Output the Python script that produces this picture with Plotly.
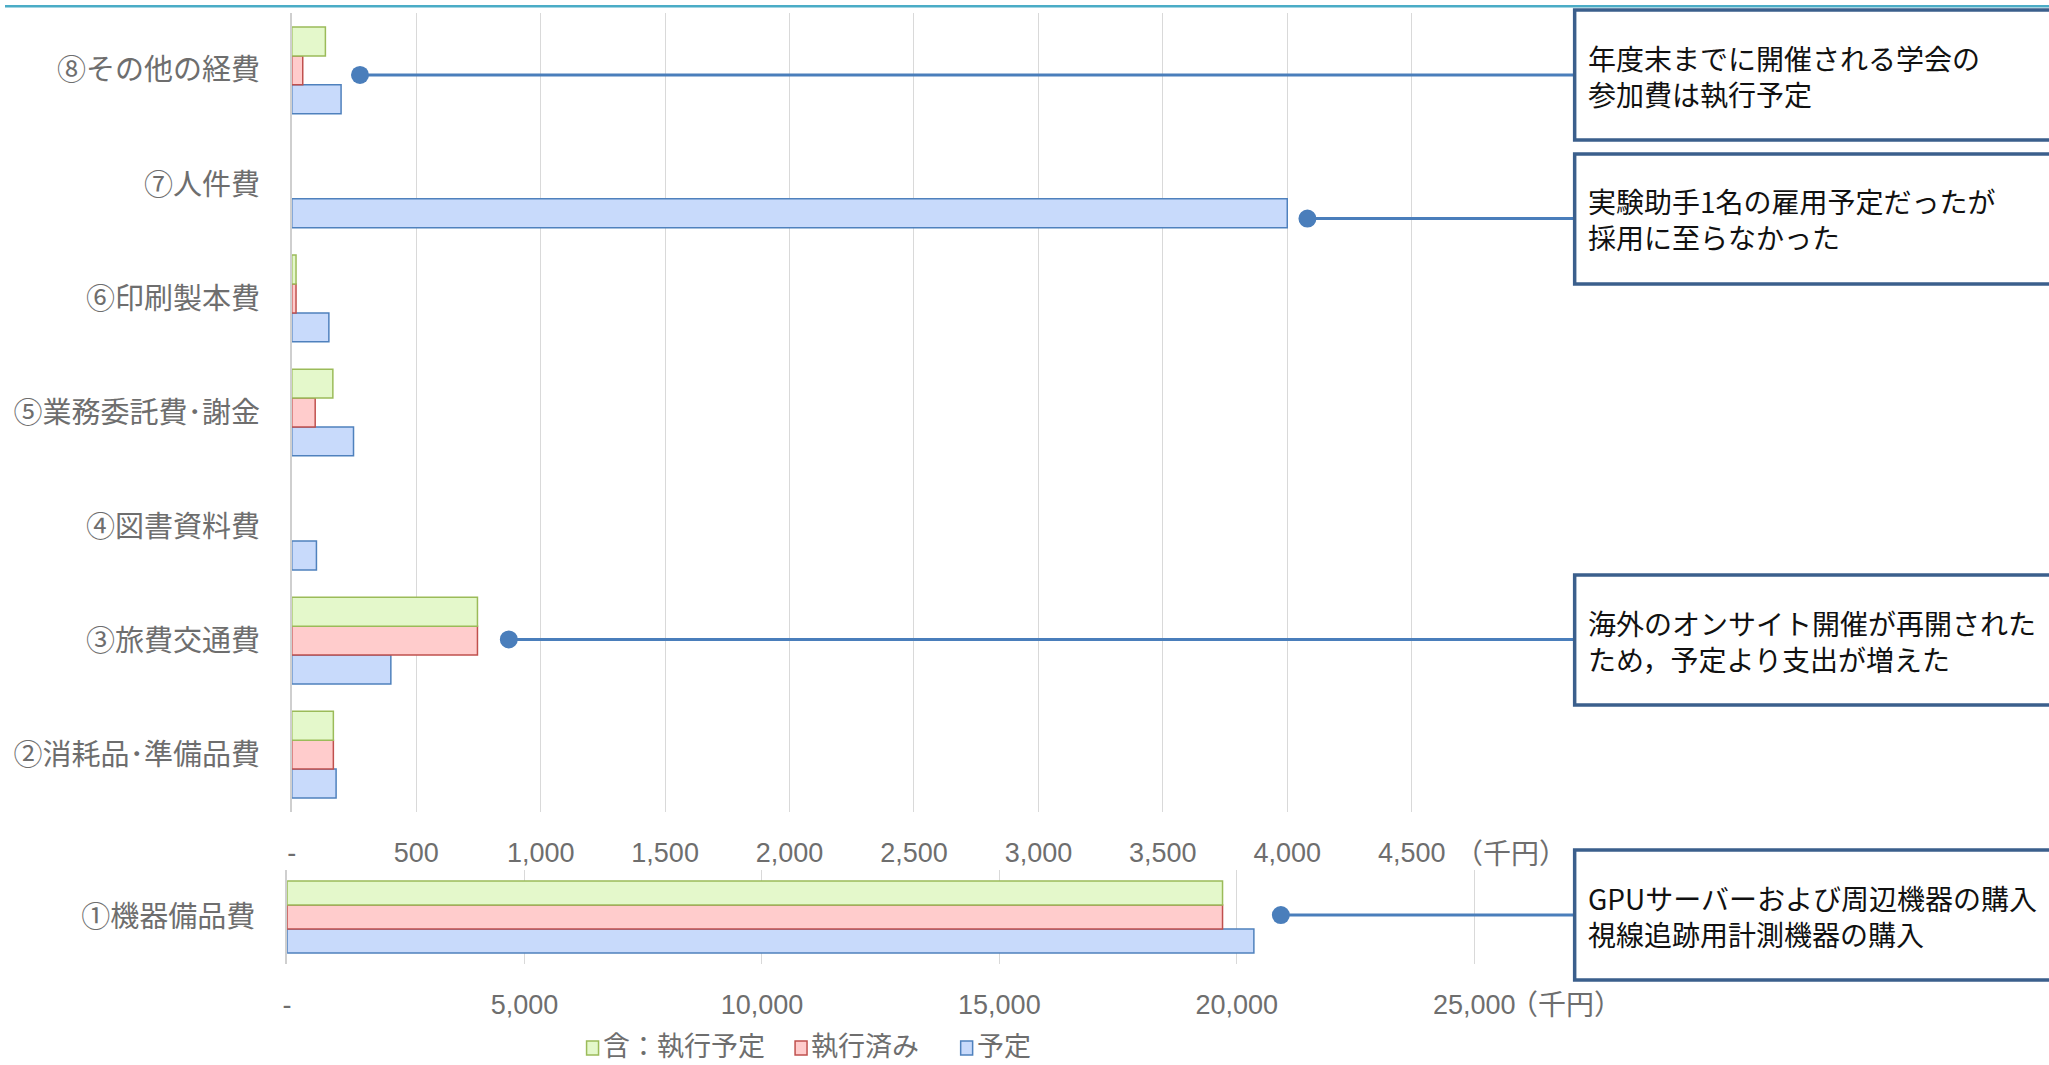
import plotly.graph_objects as go

FIG_W, FIG_H = 2049, 1065

# Expense items of the upper panel, listed bottom to top (千円)
categories = ["②消耗品･準備品費", "③旅費交通費", "④図書資料費", "⑤業務委託費･謝金",
              "⑥印刷製本費", "⑦人件費", "⑧その他の経費"]
plan_vals = [178, 398, 99, 248, 149, 4000, 198]
spent_vals = [167, 746, 0, 94, 17, 0, 44]
committed_vals = [167, 746, 0, 165, 17, 0, 135]

# Equipment item, drawn on its own wider scale (千円)
equip_category = ["①機器備品費"]
equip_plan = [20360]
equip_spent = [19700]
equip_committed = [19700]

series_names = ["予定", "執行済み", "含：執行予定"]
fill_colors = ["#c8dafb", "#ffcccc", "#e4f8cb"]
line_colors = ["#4f81bd", "#c0504d", "#9bbb59"]

top_tick_vals = [0, 500, 1000, 1500, 2000, 2500, 3000, 3500, 4000, 4500]
top_tick_text = ["-", "500", "1,000", "1,500", "2,000", "2,500", "3,000", "3,500", "4,000", "4,500"]
bottom_tick_vals = [0, 5000, 10000, 15000, 20000, 25000]
bottom_tick_text = ["-", "5,000", "10,000", "15,000", "20,000", "25,000"]
unit_label = "（千円）"

# Callouts: panel, anchor value, anchor position on the category axis, text lines
note_panel = ["top", "top", "top", "bottom"]
note_x = [274, 4081, 872, 20928]
note_y = [5.96, 4.70, 1.01, 0.02]
note_lines = [
    ["年度末までに開催される学会の", "参加費は執行予定"],
    ["実験助手1名の雇用予定だったが", "採用に至らなかった"],
    ["海外のオンサイト開催が再開された", "ため，予定より支出が増えた"],
    ["GPUサーバーおよび周辺機器の購入", "視線追跡用計測機器の購入"],
]
note_box_px = [(10, 140), (154, 284), (575, 705), (850, 980)]
note_text_mid_px = [76, 219, 641, 916]

GRAY = "#6e6e6e"
CJK = "Noto Sans CJK JP"
NUM = "Liberation Sans, Noto Sans CJK JP"
CALLOUT = "#4a7ebb"


def px(x):
    return x / FIG_W


def py(y):
    return 1 - y / FIG_H


def bar_values(vals):
    # empty entries are left out instead of drawn as zero-length bars
    return [v if v else None for v in vals]


# Panel geometry in pixels
TOP_X0, TOP_Y0, TOP_Y1 = 287.5, 13.3, 811.7
BOT_X0, BOT_Y0, BOT_Y1 = 282.8, 870, 964
PLOT_X1 = 1573.5
TOP_MAX = (PLOT_X1 - TOP_X0) / 124.74 * 500
BOT_MAX = (PLOT_X1 - BOT_X0) / 238.0 * 5000

fig = go.Figure()

top_series = [plan_vals, spent_vals, committed_vals]
bot_series = [equip_plan, equip_spent, equip_committed]
for name, vals, fc, lc in zip(series_names, top_series, fill_colors, line_colors):
    fig.add_trace(go.Bar(
        y=categories, x=bar_values(vals), name=name, orientation="h",
        marker=dict(color=fc, line=dict(color=lc, width=1.5)),
        xaxis="x", yaxis="y", showlegend=False))
for name, vals, fc, lc in zip(series_names, bot_series, fill_colors, line_colors):
    fig.add_trace(go.Bar(
        y=equip_category, x=bar_values(vals), name=name, orientation="h",
        marker=dict(color=fc, line=dict(color=lc, width=1.5)),
        xaxis="x2", yaxis="y2", showlegend=False))

axis_common = dict(showgrid=True, gridcolor="#d9d9d9", gridwidth=1.3, zeroline=False,
                   showline=False, ticks="", fixedrange=True,
                   tickfont=dict(family=NUM, size=27, color=GRAY))
cat_common = dict(type="category", showgrid=False, zeroline=False, ticks="",
                  showline=True, linecolor="#cfcfcf", linewidth=2,
                  tickfont=dict(family=CJK, size=29, color=GRAY), ticklabelstandoff=24)

fig.update_layout(
    width=FIG_W, height=FIG_H,
    margin=dict(l=0, r=0, t=0, b=0),
    paper_bgcolor="white", plot_bgcolor="white",
    barmode="group", bargap=0.24, bargroupgap=0,
    xaxis=dict(domain=[px(TOP_X0), px(PLOT_X1)], range=[0, TOP_MAX], anchor="y",
               tickmode="array", tickvals=top_tick_vals, ticktext=top_tick_text,
               ticklabelstandoff=22, **axis_common),
    yaxis=dict(domain=[py(TOP_Y1), py(TOP_Y0)], anchor="x",
               categoryorder="array", categoryarray=categories,
               range=[-0.5, len(categories) - 0.5], **cat_common),
    xaxis2=dict(domain=[px(BOT_X0), px(PLOT_X1)], range=[0, BOT_MAX], anchor="y2",
                tickmode="array", tickvals=bottom_tick_vals, ticktext=bottom_tick_text,
                ticklabelstandoff=22, **axis_common),
    yaxis2=dict(domain=[py(BOT_Y1), py(BOT_Y0)], anchor="x2",
                range=[-0.4947, 0.4947], **cat_common),
)

shapes = []
annotations = []

# Thin rule across the top of the page
shapes.append(dict(type="line", xref="paper", yref="paper", x0=0, x1=1,
                   y0=py(6.3), y1=py(6.3), line=dict(color="#4bacc6", width=2.5)))

# Callout connectors, anchor dots, boxes and text
for panel, vx, vy, lines, (b0, b1), tmid in zip(note_panel, note_x, note_y, note_lines,
                                                note_box_px, note_text_mid_px):
    xr, yr = ("x", "y") if panel == "top" else ("x2", "y2")
    xmax = TOP_MAX if panel == "top" else BOT_MAX
    shapes.append(dict(type="line", xref=xr, yref=yr, x0=vx, x1=xmax, y0=vy, y1=vy,
                       line=dict(color=CALLOUT, width=3)))
    shapes.append(dict(type="circle", xref=xr, yref=yr, xsizemode="pixel", ysizemode="pixel",
                       xanchor=vx, yanchor=vy, x0=-9, x1=9, y0=-9, y1=9,
                       fillcolor=CALLOUT, line=dict(color=CALLOUT, width=0)))
    shapes.append(dict(type="rect", xref="paper", yref="paper",
                       x0=px(PLOT_X1), x1=1.02, y0=py(b1), y1=py(b0),
                       fillcolor="white", line=dict(color="#3b5f8c", width=3.5)))
    annotations.append(dict(xref="paper", yref="paper", x=px(1585), y=py(tmid),
                            xanchor="left", yanchor="middle", align="left", showarrow=False,
                            text="<br>".join(lines),
                            font=dict(family=CJK, size=28, color="#111111")))

# Unit labels after the last tick of each scale
annotations.append(dict(xref="paper", yref="paper", x=px(1452), y=py(852),
                        xanchor="left", yanchor="middle", showarrow=False,
                        text=unit_label, font=dict(family=CJK, size=28, color=GRAY)))
annotations.append(dict(xref="paper", yref="paper", x=px(1507), y=py(1003),
                        xanchor="left", yanchor="middle", showarrow=False,
                        text=unit_label, font=dict(family=CJK, size=28, color=GRAY)))

# Legend row (series shown in reverse drawing order)
legend_x = [583, 792, 958]
for i, lx in zip([2, 1, 0], legend_x):
    shapes.append(dict(type="rect", xref="paper", yref="paper",
                       x0=px(lx), x1=px(lx + 12), y0=py(1055), y1=py(1041),
                       fillcolor=fill_colors[i], line=dict(color=line_colors[i], width=1.5)))
    annotations.append(dict(xref="paper", yref="paper", x=px(lx + 14), y=py(1044),
                            xanchor="left", yanchor="middle", showarrow=False,
                            text=series_names[i], font=dict(family=CJK, size=27, color=GRAY)))

fig.update_layout(shapes=shapes, annotations=annotations)

fig.write_html("out.html")
